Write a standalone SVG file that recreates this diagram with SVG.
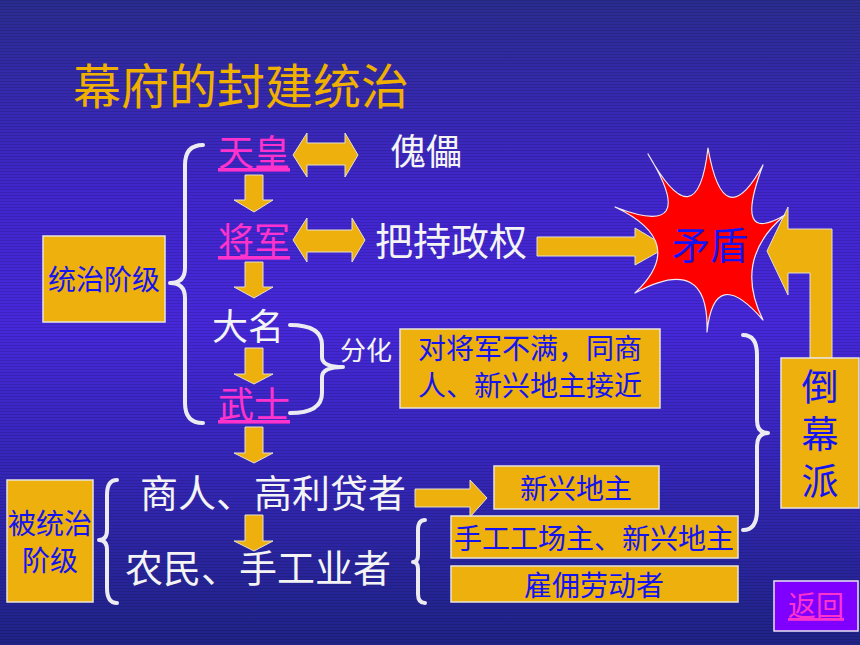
<svg xmlns="http://www.w3.org/2000/svg" width="860" height="645" viewBox="0 0 860 645">
<defs>
<linearGradient id="bg" x1="0" y1="0" x2="0" y2="1">
<stop offset="0" stop-color="#2a2c90"/>
<stop offset="0.3" stop-color="#4026cc"/>
<stop offset="0.5" stop-color="#4628da"/>
<stop offset="0.75" stop-color="#3326b4"/>
<stop offset="1" stop-color="#1f2386"/>
</linearGradient>
<pattern id="scan" width="4" height="3" patternUnits="userSpaceOnUse">
<rect width="4" height="1" fill="#000" opacity="0.12"/>
</pattern>
<style>
.gold{fill:#edb00c;stroke:#e6e0d0;stroke-width:1}
.box{fill:#edb00c;stroke:#e8e4dc;stroke-width:1.5}
.brace{fill:none;stroke:#ecebf2;stroke-width:4;stroke-linecap:round;stroke-linejoin:round}
text{font-family:"Noto Sans CJK SC","Noto Sans",sans-serif}
.w{fill:#f4f4f4}
.p{fill:#ff33cc;text-decoration:underline}
.b{fill:#1414f0}
.t{fill:#f0b000}
</style>
</defs>
<rect width="860" height="645" fill="url(#bg)"/>
<rect width="860" height="645" fill="url(#scan)"/>

<g id="title"><text class="t" x="73" y="104" font-size="48">幕府的封建统治</text></g>

<g id="connectors">
<path class="brace" d="M203,145 Q185,145 185,165 L185,268 Q185,283 170,283 Q185,283 185,298 L185,403 Q185,423 203,423"/>
<path class="brace" d="M290,325 Q322,325 322,345 L322,357 Q322,367 343,367 Q322,367 322,377 L322,393 Q322,413 290,413"/>
<path class="brace" d="M743,335 Q757,335 757,355 L757,420 Q757,433 768,433 Q757,433 757,446 L757,510 Q757,530 743,530"/>
<path class="brace" d="M117,480 Q107,480 107,495 L107,530 Q107,540 99,540 Q107,540 107,550 L107,588 Q107,603 117,603"/>
<path class="brace" d="M425,520 Q418,520 418,530 L418,555 Q418,562 413,562 Q418,562 418,569 L418,594 Q418,603 425,603"/>
<polygon class="gold" points="293,155 307,133 307,143 345,143 345,133 358,155 345,177 345,165 307,165 307,177"/>
<polygon class="gold" points="293,240 307,218 307,230 352,230 352,218 365,240 352,262 352,252 307,252 307,262"/>
<polygon class="gold" points="245,175 263,175 263,200 273,200 254,212 234,200 245,200"/>
<polygon class="gold" points="245,262 263,262 263,287 273,287 254,298 234,287 245,287"/>
<polygon class="gold" points="245,348 263,348 263,374 273,374 254,384 234,374 245,374"/>
<polygon class="gold" points="245,427 263,427 263,453 273,453 254,463 234,453 245,453"/>
<polygon class="gold" points="245,515 263,515 263,541 273,541 254,551 234,541 245,541"/>
<polygon class="gold" points="537,237 635,237 635,228 667,247 635,265 635,256 537,256"/>
<polygon class="gold" points="415,489 470,489 470,480 487,498 470,517 470,507 415,507"/>
<polygon class="gold" points="767,251 788,207 788,229 832,229 832,358 810,358 810,273 788,273 788,295"/>
</g>

<g id="star">
<path d="M708,148 Q723.5,237.3 763,165 Q732.4,246 785,215 Q732.4,258.7 763,320 Q714.2,263.6 707,332 Q709.4,252.5 635,293 Q689,242 615,207 Q701.1,240.5 648,154 Q697.2,242.2 708,148 Z" fill="#ff0000" stroke="#f0e8f0" stroke-width="1.2" stroke-linejoin="round"/>
<text class="b" x="710" y="259" font-size="38" text-anchor="middle">矛盾</text>
</g>

<g id="tianhuang"><text class="p" x="218" y="166" font-size="36">天皇</text></g>
<g id="kuilei"><text class="w" x="390" y="165" font-size="36">傀儡</text></g>
<g id="jiangjun"><text class="p" x="218" y="254" font-size="36">将军</text></g>
<g id="bachi"><text class="w" x="375" y="255" font-size="38">把持政权</text></g>
<g id="daming"><text class="w" x="212" y="340" font-size="36">大名</text></g>
<g id="wushi"><text class="p" x="218" y="418" font-size="36">武士</text></g>
<g id="fenhua"><text class="w" x="340" y="360" font-size="26">分化</text></g>

<g id="tongzhi">
<rect class="box" x="43" y="236" width="122" height="86"/>
<text class="b" x="104" y="290" font-size="28" text-anchor="middle">统治阶级</text>
</g>

<g id="duijiangjun">
<rect class="box" x="400" y="329" width="260" height="79"/>
<text class="b" font-size="28" text-anchor="middle"><tspan x="530" y="359">对将军不满，同商</tspan><tspan x="530" y="396">人、新兴地主接近</tspan></text>
</g>

<g id="daomupai">
<rect class="box" x="781" y="358" width="78" height="150"/>
<text class="b" x="820" y="368" font-size="37" writing-mode="vertical-rl" letter-spacing="10">倒幕派</text>
</g>

<g id="beitongzhi">
<rect class="box" x="7" y="480" width="86" height="122"/>
<text class="b" font-size="28" text-anchor="middle"><tspan x="50" y="534">被统治</tspan><tspan x="50" y="571">阶级</tspan></text>
</g>

<g id="shangren"><text class="w" x="140" y="507" font-size="38">商人、高利贷者</text></g>
<g id="nongmin"><text class="w" x="125" y="582" font-size="38">农民、手工业者</text></g>

<g id="xinxing">
<rect class="box" x="494" y="466" width="165" height="43"/>
<text class="b" x="576" y="499" font-size="28" text-anchor="middle">新兴地主</text>
</g>
<g id="shougong">
<rect class="box" x="451" y="516" width="287" height="42"/>
<text class="b" x="594" y="549" font-size="28" text-anchor="middle">手工工场主、新兴地主</text>
</g>
<g id="guyong">
<rect class="box" x="451" y="566" width="287" height="36"/>
<text class="b" x="594" y="596" font-size="28" text-anchor="middle">雇佣劳动者</text>
</g>

<g id="fanhui">
<rect x="774" y="581" width="84" height="50" fill="#8000ff" stroke="#e8e4f0" stroke-width="1.5"/>
<text class="p" x="816" y="616" font-size="28" text-anchor="middle">返回</text>
</g>
</svg>
